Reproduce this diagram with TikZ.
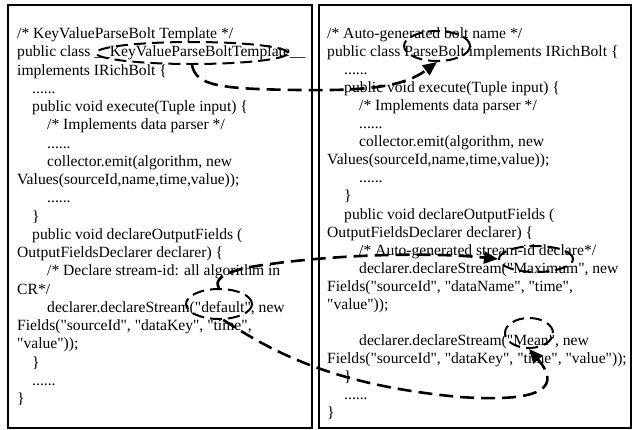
\documentclass[tikz,border=0pt]{standalone}
\usepackage{fontspec}
\setmainfont{Liberation Serif}
\usetikzlibrary{shapes.geometric,arrows.meta}
% straight double quote, as in source code (a font loaded without the TeX mapping)
\font\plainqfont="Liberation Serif" at 15.6pt
\newcommand\qt{{\plainqfont\char34}}
\begin{document}
\begin{tikzpicture}[x=1pt,y=-1pt,
  panel/.style={draw, line width=1.6pt, inner sep=0pt, anchor=north west},
  code/.style={anchor=north west, inner sep=0pt, align=left},
  ring/.style={draw, ellipse, line width=2pt, dash pattern=on 12pt off 6pt, inner sep=0pt},
  conn/.style={line width=2.6pt, dash pattern=on 14pt off 7pt,
    -{Triangle[length=14pt,width=12pt]}}
]
\useasboundingbox (0,0) rectangle (632,429);

% the two code panels
\node[panel, minimum width=304pt, minimum height=423pt] (lbox) at (7,4) {};
\node[panel, minimum width=312pt, minimum height=423pt] (rbox) at (318,4) {};

% template source
\node[code, font=\fontsize{15.6}{18.25}\selectfont] (ltext) at (17,27.5) {%
/* KeyValueParseBolt Template */\\
public class \_\_KeyValueParseBoltTemplate\_\_\\
implements IRichBolt \{\\
\hspace*{15pt}......\\
\hspace*{15pt}public void execute(Tuple input) \{\\
\hspace*{30pt}/* Implements data parser */\\
\hspace*{30pt}......\\
\hspace*{30pt}collector.emit(algorithm, new\\
Values(sourceId,name,time,value));\\
\hspace*{30pt}......\\
\hspace*{15pt}\}\\
\hspace*{15pt}public void declareOutputFields (\\
OutputFieldsDeclarer declarer) \{\\
\hspace*{30pt}/* Declare stream-id: all algorithm in\\
CR*/\\
\hspace*{30pt}declarer.declareStream(\qt default\qt, new\\
Fields(\qt sourceId\qt, \qt dataKey\qt, \qt time\qt,\\
\qt value\qt));\\
\hspace*{15pt}\}\\
\hspace*{15pt}......\\
\}};

% generated source
\node[code, font=\fontsize{15.6}{18.05}\selectfont] (rtext) at (327,27.5) {%
/* Auto-generated bolt name */\\
public class ParseBolt implements IRichBolt \{\\
\hspace*{17pt}......\\
\hspace*{17pt}public void execute(Tuple input) \{\\
\hspace*{32pt}/* Implements data parser */\\
\hspace*{32pt}......\\
\hspace*{32pt}collector.emit(algorithm, new\\
Values(sourceId,name,time,value));\\
\hspace*{32pt}......\\
\hspace*{17pt}\}\\
\hspace*{17pt}public void declareOutputFields (\\
OutputFieldsDeclarer declarer) \{\\
\hspace*{32pt}/* Auto-generated stream-id declare*/\\
\hspace*{32pt}declarer.declareStream(\qt Maximum\qt, new\\
Fields(\qt sourceId\qt, \qt dataName\qt, \qt time\qt,\\
\qt value\qt));\\
\mbox{}\\
\hspace*{32pt}declarer.declareStream(\qt Mean\qt, new\\
Fields(\qt sourceId\qt, \qt dataKey\qt, \qt time\qt, \qt value\qt));\\
\hspace*{17pt}\}\\
\hspace*{17pt}......\\
\}};

% highlighted identifiers
\node[ring, minimum width=192pt, minimum height=22pt] (tpl)  at (192,53)  {};
\node[ring, minimum width=66pt,  minimum height=30pt] (pb)   at (437,46)  {};
\node[ring, minimum width=66pt,  minimum height=30pt] (def)  at (219,304) {};
\node[ring, minimum width=74pt,  minimum height=26pt] (max)  at (536,259) {};
\node[ring, minimum width=48pt,  minimum height=30pt] (mean) at (529,333) {};

% mappings from template to generated code
\draw[conn] (tpl.south) .. controls (196,86) and (220,89) .. (300,90)
  .. controls (370,91) and (405,86) .. (pb.south);
\draw[conn] (def.north) .. controls (214,280) and (222,273) .. (250,267)
  .. controls (330,254) and (430,252) .. (max.west);
\draw[conn] (def.-75) .. controls (270,350) and (330,385) .. (460,397)
  .. controls (548,403) and (560,385) .. (mean.south);
\end{tikzpicture}
\end{document}
